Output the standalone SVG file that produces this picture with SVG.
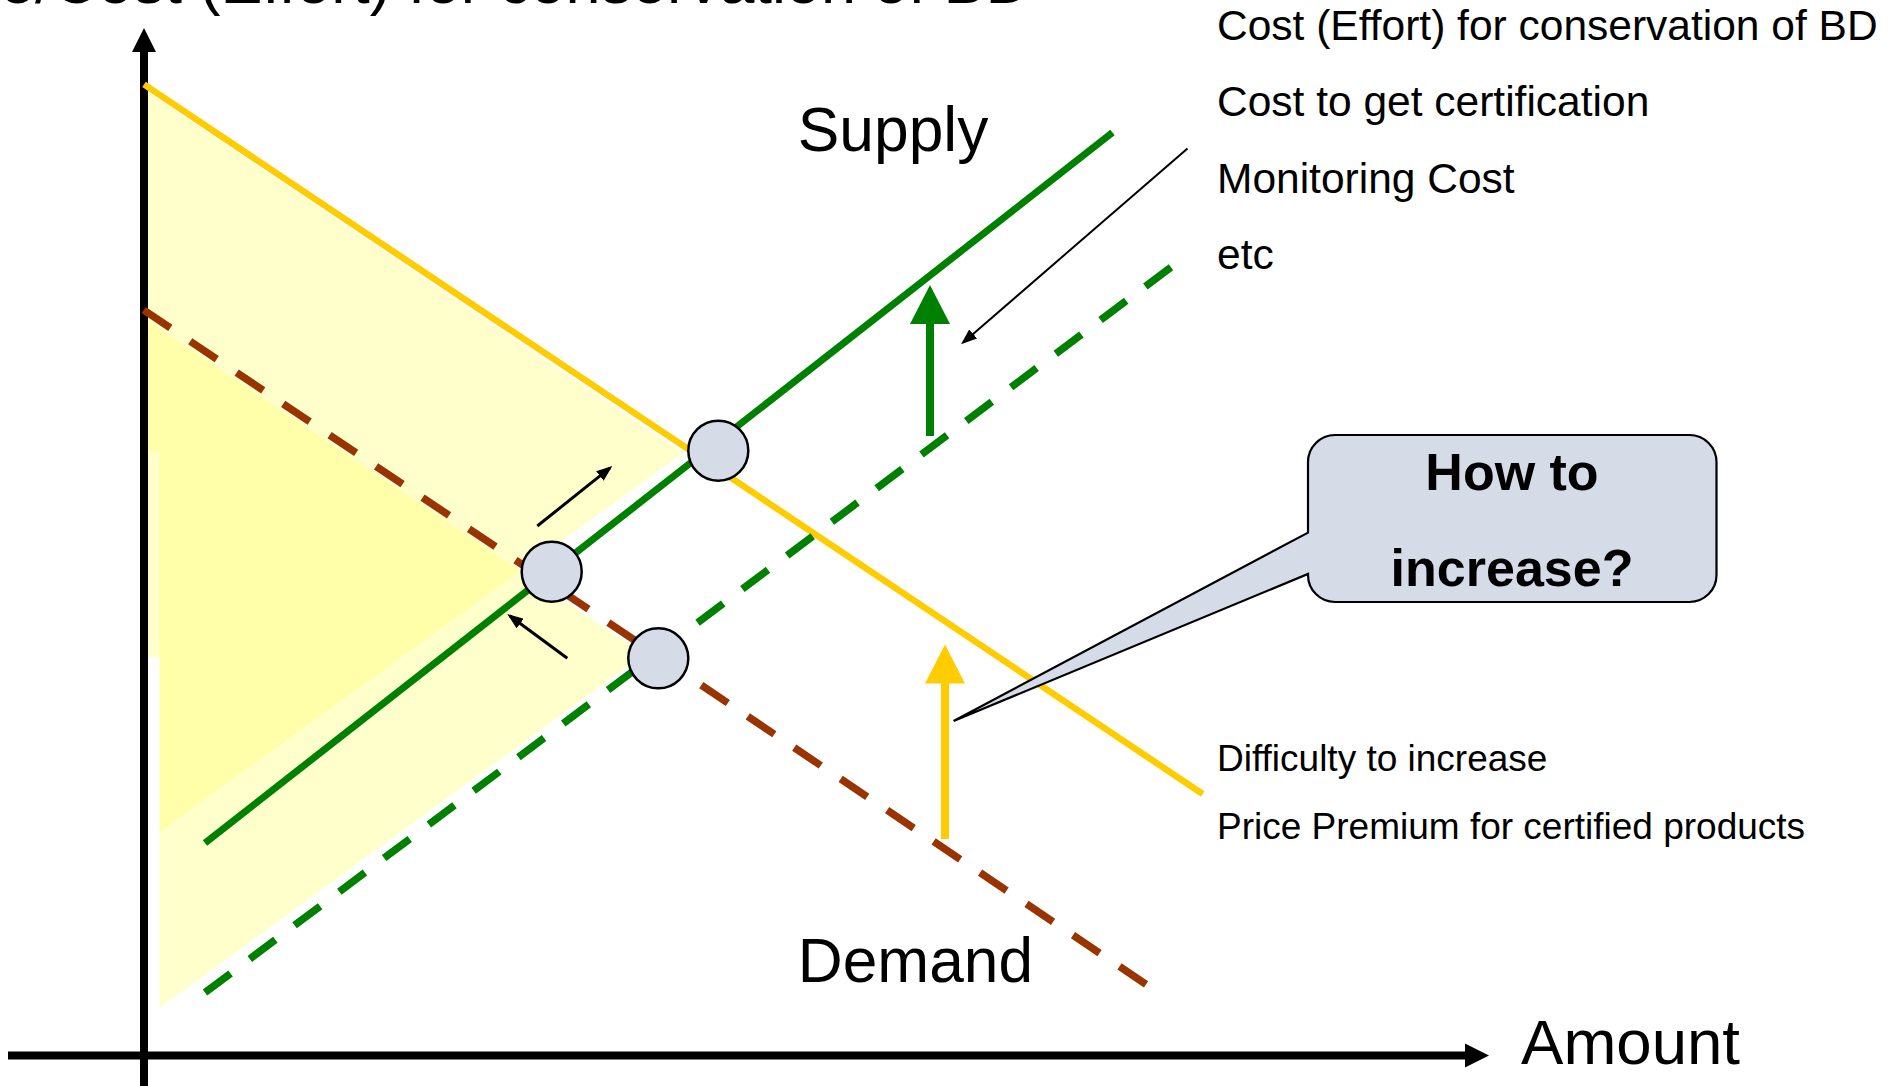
<svg xmlns="http://www.w3.org/2000/svg" width="1898" height="1086" viewBox="0 0 1898 1086">
<defs>
<style>
.t{font-family:"Liberation Sans",Arial,Helvetica,sans-serif;fill:#000}
.big{font-size:63px}
.mid{font-size:42.5px}
.sm{font-size:37px}
.bold{font-size:52px;font-weight:bold}
.area{fill:#FFFF66;fill-opacity:0.333;stroke:none}
.node{fill:#D5DCE8;stroke:#000;stroke-width:2.5}
.axis{stroke:#000;stroke-width:8;fill:none}
.thin{stroke:#000;fill:none;marker-end:url(#ah)}
</style>
<marker id="ah" markerUnits="userSpaceOnUse" markerWidth="17" markerHeight="12" refX="13" refY="6" orient="auto"><path d="M0,0 L16,6 L0,12 z" fill="#000"/></marker>
</defs>
<rect width="1898" height="1086" fill="#fff"/>

<g id="areas">
<polygon class="area" points="148,92 680,451 148,451"/>
<polygon class="area" points="148,321 648,657 148,657"/>
<polygon class="area" points="159.6,451 686,451 159.6,832"/>
<polygon class="area" points="159.6,657 640,657 159.6,1008"/>
</g>

<g id="axes">
<line class="axis" x1="144" y1="50" x2="144" y2="1086"/>
<polygon points="144,28 132,52 156,52" fill="#000"/>
<line class="axis" x1="8" y1="1055.5" x2="1468" y2="1055.5"/>
<polygon points="1489,1055.5 1465,1043.5 1465,1067.5" fill="#000"/>
</g>

<g id="connectors">
<line id="demand" x1="144" y1="84.4" x2="1202.7" y2="794" stroke="#FFCC00" stroke-width="6.5"/>
<line id="demand-new" x1="143.75" y1="310" x2="1147" y2="985" stroke="#993300" stroke-width="7.5" stroke-dasharray="32 24"/>
<line id="supply" x1="205" y1="843" x2="1112.5" y2="132.6" stroke="#008000" stroke-width="7"/>
<line id="supply-new" x1="205" y1="992.6" x2="1171.4" y2="266.9" stroke="#008000" stroke-width="7.5" stroke-dasharray="32 24"/>
<line x1="930" y1="436" x2="930" y2="322" stroke="#008000" stroke-width="8"/>
<polygon points="930,285 910,324 950,324" fill="#008000"/>
<line x1="945" y1="839" x2="945" y2="682" stroke="#FFCC00" stroke-width="8"/>
<polygon points="945,644.5 925,683.5 965,683.5" fill="#FFCC00"/>
<line class="thin" x1="1187.5" y1="148.5" x2="963.3" y2="342.4" stroke-width="2"/>
<line class="thin" x1="537.3" y1="526" x2="610" y2="467.9" stroke-width="3"/>
<line class="thin" x1="567.3" y1="658.3" x2="509.7" y2="615.8" stroke-width="3"/>
</g>

<g id="node-e1"><circle class="node" cx="718.3" cy="450.7" r="30"/></g>
<g id="node-e2"><circle class="node" cx="551.7" cy="571.7" r="30"/></g>
<g id="node-e3"><circle class="node" cx="658.3" cy="658.3" r="30"/></g>

<g id="callout">
<path d="M1335,435 H1689.5 A27,27 0 0 1 1716.5,462 V575 A27,27 0 0 1 1689.5,602 H1335 A27,27 0 0 1 1308,575 V574 L953.6,721 L1308,532.6 V462 A27,27 0 0 1 1335,435 Z" fill="#D5DCE8" stroke="#000" stroke-width="2.2"/>
<text class="t bold" x="1512" y="490" text-anchor="middle">How to</text>
<text class="t bold" x="1512" y="586" text-anchor="middle">increase?</text>
</g>

<g id="labels">
<text class="t big" x="0" y="3" textLength="1031" lengthAdjust="spacingAndGlyphs">e/Cost (Effort) for conservation of BD</text>
<text class="t big" x="797.8" y="150.5" textLength="190.6" lengthAdjust="spacingAndGlyphs">Supply</text>
<text class="t big" x="797.8" y="982" textLength="235.2" lengthAdjust="spacingAndGlyphs">Demand</text>
<text class="t big" x="1521" y="1063.6" textLength="219" lengthAdjust="spacingAndGlyphs">Amount</text>
<text class="t mid" x="1217" y="40">Cost (Effort) for conservation of BD</text>
<text class="t mid" x="1217" y="116">Cost to get certification</text>
<text class="t mid" x="1217" y="193">Monitoring Cost</text>
<text class="t mid" x="1217" y="269">etc</text>
<text class="t sm" x="1217" y="770.5">Difficulty to increase</text>
<text class="t sm" x="1217" y="838.5">Price Premium for certified products</text>
</g>
</svg>
